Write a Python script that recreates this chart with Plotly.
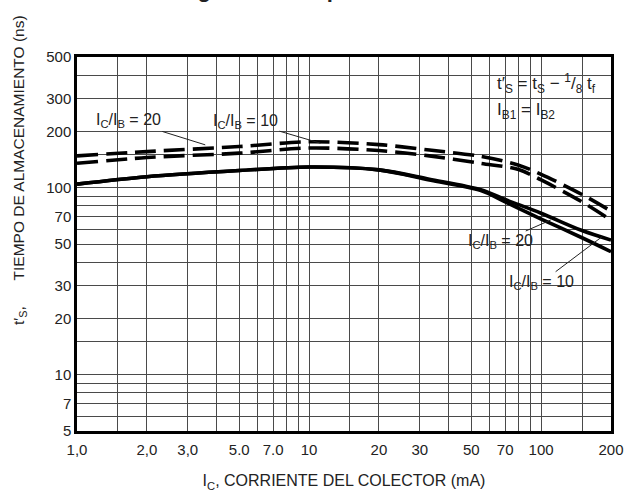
import plotly.graph_objects as go
import math

# Collector current (mA) sample points and storage time (ns) readings
ic_solid = [1, 2, 5, 10, 20, 33, 55, 70, 100, 150, 200]
ts_solid_10 = [104.5, 114.5, 123.5, 129, 124.5, 111, 97.5, 86.5, 73, 59, 52.5]
ts_solid_20 = [104.5, 114.5, 123.5, 129, 124.5, 110, 96.5, 84, 68, 54, 45.5]

ic_dash = [1, 2, 5, 10, 20, 33, 55, 80, 100, 150, 200]
ts_dash_10 = [148, 156, 166, 176, 170, 159, 147, 132, 118, 92, 75]
ts_dash_20 = [135, 145, 153, 163, 158, 148, 135, 125, 110, 84, 67]

# Grid positions and tick labels
x_grid = [1, 1.5, 2, 3, 4, 5, 6, 7, 8, 9, 10, 15, 20, 30, 40, 50, 60, 70, 80, 90, 100, 150, 200]
x_labels = {1: "1,0", 2: "2,0", 3: "3,0", 5: "5.0", 7: "7.0", 10: "10", 20: "20",
            30: "30", 50: "50", 70: "70", 100: "100", 200: "200"}
y_grid = [5, 6, 7, 8, 9, 10, 15, 20, 30, 40, 50, 60, 70, 80, 90, 100, 150, 200, 300, 400, 500]
y_labels = {5: "5", 7: "7", 10: "10", 20: "20", 30: "30", 50: "50", 70: "70",
            100: "100", 200: "200", 300: "300", 500: "500"}

FONT = "Liberation Sans Narrow, Arial Narrow, Liberation Sans, Arial, sans-serif"
INK = "#222"
W, H = 626, 498
ML, MR, MT, MB = 77, 15, 57, 67

fig = go.Figure()
line_w = 3.6
for ys in (ts_solid_10, ts_solid_20):
    fig.add_trace(go.Scatter(x=ic_solid, y=ys, mode="lines",
                             line=dict(color="black", width=line_w, shape="spline", smoothing=0.9),
                             showlegend=False, hoverinfo="skip"))
for ys in (ts_dash_10, ts_dash_20):
    fig.add_trace(go.Scatter(x=ic_dash, y=ys, mode="lines",
                             line=dict(color="black", width=line_w, shape="spline", smoothing=0.9,
                                       dash="21px,8px"),
                             showlegend=False, hoverinfo="skip"))

axis_common = dict(type="log", showgrid=True, gridcolor="#4a4a4a", gridwidth=1,
                   showline=True, linecolor="black", linewidth=2.5, mirror=True,
                   ticks="", zeroline=False, automargin=False,
                   tickfont=dict(family=FONT, size=15, color=INK))

fig.update_xaxes(range=[0, math.log10(200)], tickmode="array", tickvals=x_grid,
                 ticktext=[x_labels.get(v, "") for v in x_grid], ticklabelstandoff=3,
                 title=dict(text="I<sub>C</sub>, CORRIENTE DEL COLECTOR (mA)",
                            font=dict(family=FONT, size=16, color=INK), standoff=19),
                 **axis_common)
fig.update_yaxes(range=[math.log10(5), math.log10(500)], tickmode="array", tickvals=y_grid,
                 ticktext=[y_labels.get(v, "") for v in y_grid],
                 **axis_common)

pw, ph = W - ML - MR, H - MT - MB


def px_to_paper(px, py):
    return (px - ML) / pw, (H - MB - py) / ph


lab_font = dict(family=FONT, size=16, color=INK)
ratio = "I<sub>C</sub>/I<sub>B</sub> = {}"


def leader(xv, yv, txt, ax, ay):
    fig.add_annotation(x=math.log10(xv), y=math.log10(yv), xref="x", yref="y",
                       text=txt, showarrow=True, arrowhead=0, arrowwidth=1,
                       arrowcolor=INK, ax=ax, ay=ay, font=lab_font, standoff=0,
                       startstandoff=0)


leader(3.57, 169.5, ratio.format(20), -77, -24)
leader(11.2, 173, ratio.format(10), -75, -22)
leader(110, 67.2, ratio.format(20), -50, 22)
leader(183, 54.7, ratio.format(10), -61, 46)


def note(px, py, txt, size=16, angle=0):
    fx, fy = px_to_paper(px, py)
    fig.add_annotation(x=fx, y=fy, xref="paper", yref="paper", xanchor="center",
                       yanchor="middle", showarrow=False, text=txt, textangle=angle,
                       font=dict(family=FONT, size=size, color=INK))


# Formula block, upper right
note(546, 84, "t′<sub>S</sub> = t<sub>S</sub> − <sup>1</sup>/<sub>8</sub> t<sub>f</sub>", 17)
note(526, 111, "I<sub>B1</sub> = I<sub>B2</sub>", 17)

# Vertical axis title
note(19, 170, "t′<sub>S</sub>,\u00a0\u00a0\u00a0\u00a0\u00a0\u00a0TIEMPO DE ALMACENAMIENTO (ns)",
     15.5, -90)

# Chart title running off the top edge
fig.add_annotation(x=px_to_paper(176, 0)[0], y=1, xref="paper", yref="paper",
                   xanchor="left", yanchor="bottom", yshift=53, showarrow=False,
                   text="<b>Figura 8. Tiempo de almacenamiento</b>",
                   font=dict(family="Liberation Sans, Arial, sans-serif", size=22, color=INK))

fig.update_layout(width=W, height=H, margin=dict(l=ML, r=MR, t=MT, b=MB),
                  paper_bgcolor="white", plot_bgcolor="white")

fig.write_html("out.html")
